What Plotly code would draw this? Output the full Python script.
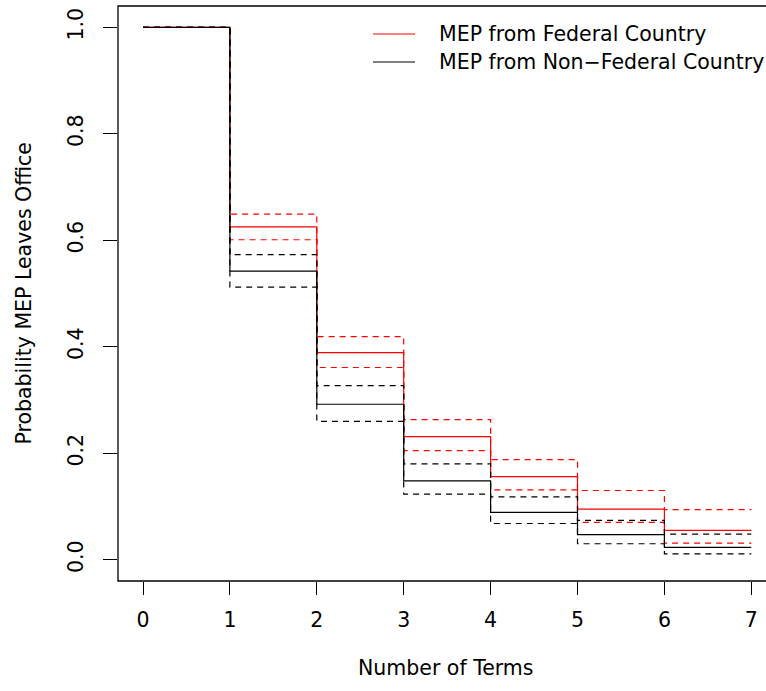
import plotly.graph_objects as go

# Survival-style step curves: probability an MEP leaves office by number of terms
terms = [0, 1, 2, 3, 4, 5, 6, 7]

federal = [1.0, 0.625, 0.389, 0.231, 0.156, 0.095, 0.055]
federal_hi = [1.0, 0.649, 0.419, 0.263, 0.188, 0.130, 0.094]
federal_lo = [1.0, 0.601, 0.361, 0.205, 0.131, 0.070, 0.031]

nonfederal = [1.0, 0.542, 0.292, 0.148, 0.089, 0.047, 0.023]
nonfederal_hi = [1.0, 0.573, 0.327, 0.180, 0.118, 0.074, 0.048]
nonfederal_lo = [1.0, 0.512, 0.260, 0.123, 0.068, 0.030, 0.011]

series_names = ["MEP from Federal Country", "MEP from Non\u2212Federal Country"]
series_colors = ["#ff0000", "#000000"]

x_ticks = [0, 1, 2, 3, 4, 5, 6, 7]
y_ticks = [0.0, 0.2, 0.4, 0.6, 0.8, 1.0]
y_tick_text = ["0.0", "0.2", "0.4", "0.6", "0.8", "1.0"]

FONT = "DejaVu Sans, Liberation Sans, Arial, sans-serif"
FS = 20.5

W, H = 766, 691
ML, MR, MT, MB = 118, 0, 6, 110

fig = go.Figure()


def step_y(vals):
    # hold the last estimate to the end of the final interval
    return vals + [vals[-1]]


groups = [
    (federal, federal_lo, federal_hi, series_colors[0]),
    (nonfederal, nonfederal_lo, nonfederal_hi, series_colors[1]),
]
for est, lo, hi, col in groups:
    for vals, dash in ((est, "solid"), (hi, "6px,5px"), (lo, "6px,5px")):
        fig.add_trace(go.Scatter(
            x=terms, y=step_y(vals), mode="lines",
            line=dict(color=col, width=1.2, shape="hv", dash=dash),
            showlegend=False, hoverinfo="skip",
        ))

# x axis: 0 at px 143, 86.9 px per term; y axis: R-style 4% padding
px_per_term = 86.9
x0_px = 143 - ML
x_lo = -x0_px / px_per_term
x_hi = x_lo + (W - ML - MR) / px_per_term

fig.update_xaxes(
    range=[x_lo, x_hi], tickmode="array", tickvals=x_ticks,
    ticks="outside", ticklen=13, tickwidth=1.2, tickcolor="#000",
    showgrid=False, zeroline=False, showline=False,
    tickfont=dict(family=FONT, size=FS, color="#000"),
    ticklabelstandoff=7,
)
fig.update_yaxes(
    range=[-0.04, 1.04], tickmode="array", tickvals=y_ticks, ticktext=y_tick_text,
    ticks="outside", ticklen=14, tickwidth=1.2, tickcolor="#000",
    showgrid=False, zeroline=False, showline=False, tickangle=-90,
    tickfont=dict(family=FONT, size=FS, color="#000"),
    ticklabelstandoff=12,
)

# plot frame (right side runs past the page edge)
fig.add_shape(type="rect", xref="paper", yref="paper", x0=0, x1=1.05, y0=0, y1=1,
              line=dict(color="#000", width=1.3), fillcolor="rgba(0,0,0,0)", layer="above")

# axis titles
fig.add_annotation(text="Number of Terms", xref="paper", yref="paper",
                   x=(446 - ML) / (W - ML - MR), y=0, yshift=-(668 - (H - MB)),
                   xanchor="center", yanchor="middle", showarrow=False,
                   font=dict(family=FONT, size=FS, color="#000"))
fig.add_annotation(text="Probability MEP Leaves Office", xref="paper", yref="paper",
                   x=0, xshift=-(ML - 23), y=0.5, textangle=-90,
                   xanchor="center", yanchor="middle", showarrow=False,
                   font=dict(family=FONT, size=FS, color="#000"))

# legend drawn in pixel positions
pw, ph = W - ML - MR, H - MT - MB
legend_rows = [34, 62]
for name, col, ly in zip(series_names, series_colors, legend_rows):
    yp = 1 - (ly - MT) / ph
    fig.add_shape(type="line", xref="paper", yref="paper",
                  x0=(373 - ML) / pw, x1=(415 - ML) / pw, y0=yp, y1=yp,
                  line=dict(color=col, width=1.2))
    fig.add_annotation(text=name, xref="paper", yref="paper",
                       x=(437 - ML) / pw, y=yp, xanchor="left", yanchor="middle",
                       showarrow=False, font=dict(family=FONT, size=FS, color="#000"))

fig.update_layout(
    width=W, height=H, margin=dict(l=ML, r=MR, t=MT, b=MB, pad=0),
    paper_bgcolor="white", plot_bgcolor="white", showlegend=False,
)

fig.write_html("out.html")
